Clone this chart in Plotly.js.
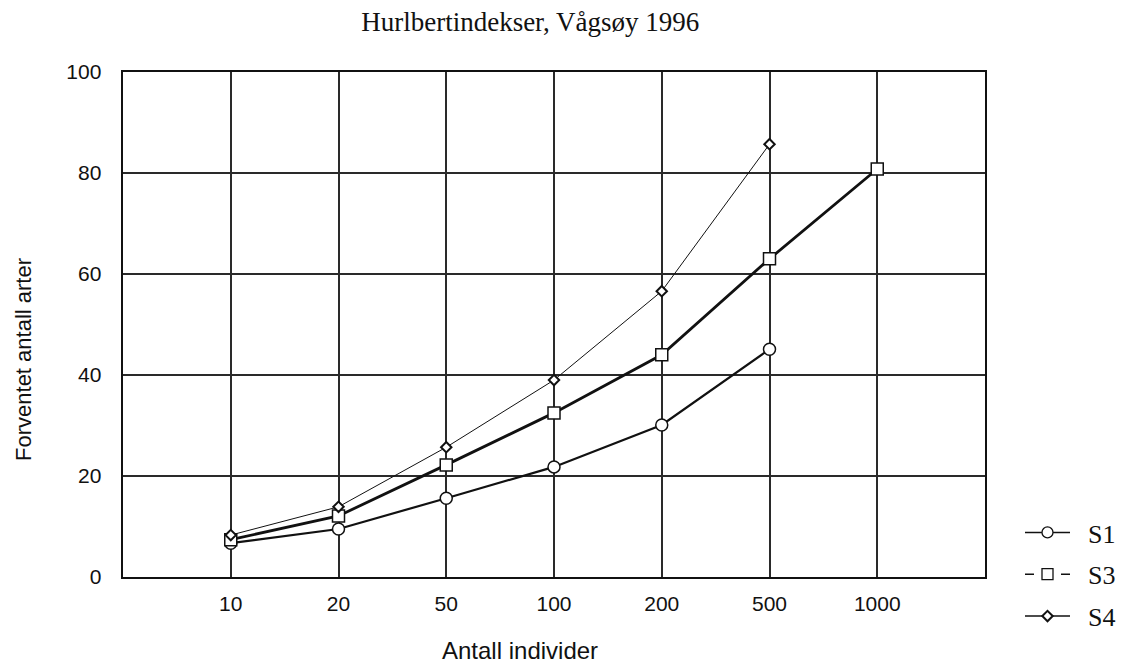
<!DOCTYPE html>
<html><head><meta charset="utf-8">
<script src="https://cdn.plot.ly/plotly-3.0.1.min.js"></script>
<style>body{margin:0;background:#fff}#c{width:1121px;height:664px}</style>
</head><body><div id="c"></div>
<script>
const categories = ["10","20","50","100","200","500","1000"];
const s1 = [6.7, 9.5, 15.6, 21.8, 30.1, 45.1, null];
const s3 = [7.4, 12.1, 22.2, 32.5, 44.0, 63.0, 80.8];
const s4 = [8.3, 13.9, 25.7, 39.0, 56.6, 85.7, null];
const names = ["S1","S3","S4"];
const titleText = 'Hurlbertindekser, Vågsøy 1996';
const xTitle = 'Antall individer';
const yTitle = 'Forventet antall arter';

const ink = '#111';
const pad = '\u00a0\u00a0';
const traces = [
  {x: categories, y: s1, mode:'lines+markers', showlegend:false,
   line:{color:ink, width:2.2}, marker:{symbol:'circle', size:12, color:'#fff', line:{color:ink, width:1.5}}},
  {x: categories, y: s3, mode:'lines+markers', showlegend:false,
   line:{color:ink, width:2.8}, marker:{symbol:'square', size:12, color:'#fff', line:{color:ink, width:1.5}}},
  {x: categories, y: s4, mode:'lines+markers', showlegend:false,
   line:{color:ink, width:1}, marker:{symbol:'diamond', size:8, color:'#fff', line:{color:ink, width:2}}},
  {x:[null], y:[null], name:pad+names[0], legendgroup:'a', mode:'lines+markers', line:{color:ink, width:1.5},
   marker:{symbol:'circle', size:11, color:'#fff', line:{color:ink, width:1.3}}},
  {x:[null], y:[null], name:pad+names[1], legendgroup:'b', mode:'lines+markers', line:{color:ink, width:1.5, dash:'dash'},
   marker:{symbol:'square', size:11, color:'#fff', line:{color:ink, width:1.3}}},
  {x:[null], y:[null], name:pad+names[2], legendgroup:'c', mode:'lines+markers', line:{color:ink, width:1.5},
   marker:{symbol:'diamond', size:8, color:'#fff', line:{color:ink, width:2}}}
];

const sans = 'Liberation Sans, Arial, sans-serif';
const serif = 'Liberation Serif, Times New Roman, serif';
const layout = {
  width:1121, height:664,
  margin:{l:123, r:136, t:72, b:87},
  paper_bgcolor:'#fff', plot_bgcolor:'#fff',
  title:{text:titleText, x:0.473, xanchor:'center', y:0.967, yanchor:'middle',
         font:{family:serif, size:27, color:ink}},
  xaxis:{type:'category', categoryarray:categories, categoryorder:'array', range:[-1,7],
         showgrid:true, gridcolor:'#2a2a2a', gridwidth:2, zeroline:false,
         showline:true, mirror:true, linecolor:ink, linewidth:2.4, ticks:'', ticklabelstandoff:6,
         tickfont:{family:sans, size:21, color:ink}},
  yaxis:{range:[0,100], dtick:20, showgrid:true, gridcolor:'#2a2a2a', gridwidth:2, zeroline:false,
         showline:true, mirror:true, linecolor:ink, linewidth:2.4, ticks:'', ticklabelstandoff:15,
         tickfont:{family:sans, size:21, color:ink}},
  annotations:[
    {text:xTitle, xref:'paper', yref:'paper', x:0.4606, y:-0.1446, xanchor:'center', yanchor:'middle',
     showarrow:false, font:{family:sans, size:24, color:ink}},
    {text:yTitle, xref:'paper', yref:'paper', x:-0.1149, y:0.4317, xanchor:'center', yanchor:'middle',
     textangle:-90, showarrow:false, font:{family:sans, size:22, color:ink}}
  ],
  legend:{xref:'container', yref:'container', x:0.9099, xanchor:'left', y:0.2334, yanchor:'top',
          bgcolor:'rgba(0,0,0,0)',
          font:{family:serif, size:26, color:ink},
          tracegroupgap:5, itemwidth:45},
  showlegend:true
};
Plotly.newPlot('c', traces, layout, {displayModeBar:false, staticPlot:true});
</script></body></html>
